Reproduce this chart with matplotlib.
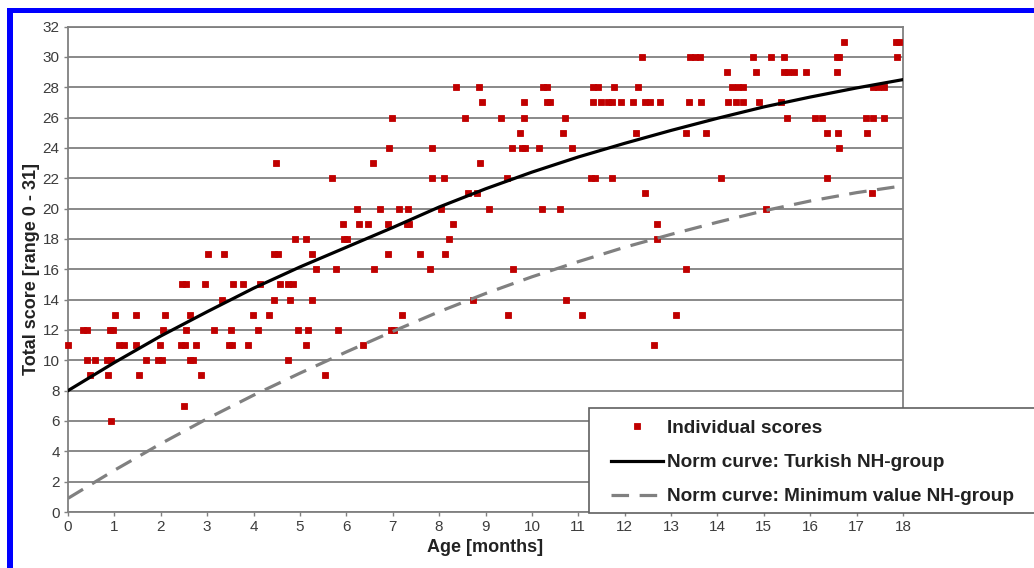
import matplotlib.pyplot as plt
from matplotlib.patches import Rectangle

plt.rcParams['font.family'] = ['Liberation Sans', 'DejaVu Sans']

# ages (months) of the individual scores, one list per score value
ages_31 = [16.73, 17.84, 17.92]
ages_30 = [12.37, 13.41, 13.52, 13.62, 14.77, 15.15, 15.44, 16.57, 16.63, 17.88]
ages_29 = [14.21, 14.83, 15.44, 15.53, 15.66, 15.91, 16.57]
ages_28 = [8.36, 8.86, 10.25, 10.32, 11.32, 11.43, 11.78, 12.29, 14.31, 14.45,
           14.56, 17.36, 17.47, 17.58]
ages_27 = [8.92, 9.84, 10.33, 10.40, 11.32, 11.49, 11.63, 11.73, 11.93, 12.17,
           12.44, 12.55, 12.76, 13.39, 13.65, 14.23, 14.41, 14.56, 14.90, 15.38]
ages_26 = [6.98, 8.56, 9.34, 9.84, 10.72, 15.49, 16.10, 16.25, 17.21, 17.36, 17.59]
ages_25 = [9.74, 10.66, 12.24, 13.32, 13.75, 16.37, 16.60, 17.23]
ages_24 = [6.93, 7.85, 9.58, 9.78, 9.85, 10.15, 10.87, 16.63]
ages_23 = [4.48, 6.57, 8.88]
ages_22 = [5.70, 7.85, 8.10, 9.46, 11.27, 11.36, 11.72, 14.08, 16.37]
ages_21 = [8.63, 8.81, 12.44, 17.34]
ages_20 = [6.22, 6.73, 7.14, 7.34, 8.04, 9.08, 10.21, 10.61, 15.04]
ages_19 = [5.92, 6.27, 6.47, 6.89, 7.30, 7.36, 8.31, 12.69]
ages_18 = [4.90, 5.14, 5.94, 6.01, 8.21, 12.69]
ages_17 = [3.02, 3.37, 4.44, 4.53, 5.27, 6.89, 7.59, 8.13]
ages_16 = [5.35, 5.77, 6.60, 7.80, 9.60, 13.32]
ages_15 = [2.45, 2.54, 2.95, 3.56, 3.78, 4.14, 4.58, 4.75, 4.84]
ages_14 = [3.33, 4.45, 4.79, 5.25, 8.72, 10.73]
ages_13 = [1.01, 1.47, 2.09, 2.62, 3.98, 4.33, 7.19, 9.49, 11.09, 13.10]
ages_12 = [0.33, 0.42, 0.91, 0.98, 2.05, 2.54, 3.15, 3.51, 4.09, 4.95, 5.17,
           5.81, 6.96, 7.02]
ages_11 = [0.0, 1.11, 1.21, 1.47, 1.98, 2.44, 2.52, 2.77, 3.46, 3.54, 3.87,
           5.14, 6.37, 12.63]
ages_10 = [0.42, 0.58, 0.83, 0.92, 1.68, 1.93, 2.03, 2.62, 2.70, 4.75]
ages_9 = [0.47, 0.87, 1.54, 2.86, 5.54]
ages_7 = [2.49]
ages_6 = [0.92]

# norm curves read at each month
curve_age = list(range(0, 19))
turkish = [8.0, 9.85, 11.6, 13.2, 14.75, 16.15, 17.45, 18.75, 20.1, 21.3,
           22.4, 23.4, 24.3, 25.15, 25.95, 26.7, 27.35, 27.95, 28.5]
minimum = [0.9, 2.75, 4.5, 6.15, 7.7, 9.15, 10.55, 11.9, 13.2, 14.4,
           15.5, 16.5, 17.45, 18.3, 19.1, 19.85, 20.5, 21.05, 21.5]

score_rows = [(31, ages_31), (30, ages_30), (29, ages_29), (28, ages_28),
              (27, ages_27), (26, ages_26), (25, ages_25), (24, ages_24),
              (23, ages_23), (22, ages_22), (21, ages_21), (20, ages_20),
              (19, ages_19), (18, ages_18), (17, ages_17), (16, ages_16),
              (15, ages_15), (14, ages_14), (13, ages_13), (12, ages_12),
              (11, ages_11), (10, ages_10), (9, ages_9), (7, ages_7), (6, ages_6)]

ind_age = []
ind_score = []
for score, ages in score_rows:
    ind_age += ages
    ind_score += [score] * len(ages)

W, H = 1034, 568
fig = plt.figure(figsize=(W / 100, H / 100), dpi=100)
ax = fig.add_axes([68 / W, 1 - 512 / H, (903 - 68) / W, (512 - 26.5) / H])

grey = '#808080'
ax.set_xlim(0, 18)
ax.set_ylim(0, 32)
ax.set_xticks(range(0, 19))
ax.set_yticks(range(0, 33, 2))
ax.yaxis.grid(True, color=grey, lw=1.3)
ax.set_axisbelow(True)
for s in ax.spines.values():
    s.set_color(grey)
    s.set_linewidth(1.3)
ax.tick_params(direction='out', length=3, width=1, color=grey,
               labelsize=11, labelcolor='#3c3c3c', pad=3)

ax.plot(ind_age, ind_score, ls='none', marker='s', ms=3.7, mew=0.6,
        color='#c00000', clip_on=False, zorder=3, label='Individual scores')
ax.plot(curve_age, turkish, color='black', lw=2.3, zorder=4,
        label='Norm curve: Turkish NH-group')
ax.plot(curve_age, minimum, color=grey, lw=2.3, ls=(0, (5.5, 3.3)), zorder=4,
        label='Norm curve: Minimum value NH-group')

ax.set_xlabel('Age [months]', fontsize=13, fontweight='bold', color='#222222',
              labelpad=3)
ax.set_ylabel('Total score [range 0 - 31]', fontsize=13, fontweight='bold',
              color='#222222', labelpad=2)

# legend box runs off the right edge of the picture
ax.add_patch(Rectangle((589 / W, 1 - 513.3 / H), 500 / W, 105.6 / H,
                       transform=fig.transFigure, facecolor='white',
                       edgecolor='#606060', lw=1.2, zorder=5, clip_on=False))
leg = ax.legend(loc='center left', bbox_to_anchor=(611 / W, 1 - 462.5 / H),
                bbox_transform=fig.transFigure, frameon=False, borderpad=0,
                borderaxespad=0, handlelength=2.72, handletextpad=0.21,
                labelspacing=0.88, prop={'weight': 'bold', 'size': 13.7})
leg.set_zorder(6)
for t in leg.get_texts():
    t.set_color('#222222')

# blue frame on the left and top
fig.add_artist(Rectangle((7.3 / W, 0), 5.5 / W, 1 - 8.3 / H,
                         transform=fig.transFigure, color='#0000ff', lw=0))
fig.add_artist(Rectangle((7.3 / W, 1 - 13.3 / H), 1 - 7.3 / W, 5 / H,
                         transform=fig.transFigure, color='#0000ff', lw=0))

fig.savefig('out.png', dpi=100)
